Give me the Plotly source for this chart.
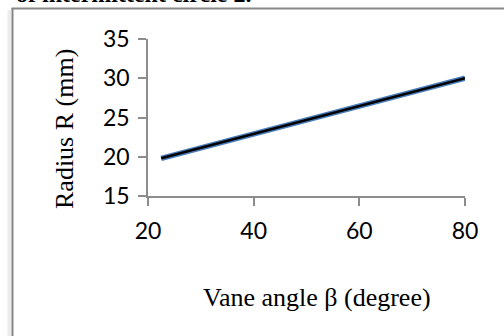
import plotly.graph_objects as go

# Data
vane_angle = [22.5, 40, 60, 80]
radius = [19.8, 22.9, 26.45, 30.0]

x_ticks = [20, 40, 60, 80]
y_ticks = [15, 20, 25, 30, 35]

W, H = 504, 336
L, R, T, B = 148, 39, 39, 140
pw, ph = W - L - R, H - T - B

def px(x):
    return (x - L) / pw

def py(y):
    return (H - B - y) / ph

fig = go.Figure()
fig.add_trace(go.Scatter(x=vane_angle, y=radius, mode="lines",
                         line=dict(color="#4a7ebb", width=5.5), hoverinfo="skip"))
fig.add_trace(go.Scatter(x=vane_angle, y=radius, mode="lines",
                         line=dict(color="#000000", width=2.5), hoverinfo="skip"))

axis_common = dict(showgrid=False, zeroline=False, showline=True,
                   linecolor="#8c8c8c", linewidth=1.5,
                   ticks="outside", ticklen=8, tickcolor="#8c8c8c", tickwidth=1.5,
                   tickfont=dict(family="Lato", size=23, color="#000000"))

fig.update_xaxes(range=[20, 80], tickvals=x_ticks, ticklabelstandoff=6, **axis_common)
fig.update_yaxes(range=[15, 35], tickvals=y_ticks, ticklabelstandoff=4, **axis_common)

fig.update_layout(
    width=W, height=H,
    margin=dict(l=L, r=R, t=T, b=B),
    paper_bgcolor="white", plot_bgcolor="white",
    showlegend=False,
    shapes=[
        # shadow
        dict(type="line", xref="paper", yref="paper",
             x0=px(9.5), x1=px(9.5), y0=py(10), y1=py(340),
             line=dict(color="#ececec", width=4)),
        # frame
        dict(type="line", xref="paper", yref="paper",
             x0=px(12.5), x1=px(12.5), y0=py(8), y1=py(340),
             line=dict(color="#878787", width=2)),
        dict(type="line", xref="paper", yref="paper",
             x0=px(11.5), x1=px(510), y0=py(8.5), y1=py(8.5),
             line=dict(color="#878787", width=2)),
    ],
    annotations=[
        dict(text="Radius R (mm)", xref="paper", yref="paper",
             x=px(64), y=py(129), textangle=-90, showarrow=False,
             font=dict(family="Liberation Serif", size=26, color="#000000"),
             xanchor="center", yanchor="middle"),
        dict(text="Vane angle \u03b2 (degree)", xref="paper", yref="paper",
             x=px(317), y=py(297), showarrow=False,
             font=dict(family="Liberation Serif", size=26, color="#000000"),
             xanchor="center", yanchor="middle"),
        dict(text="<b>\u00b7 of intermittent circle 2.</b>", xref="paper", yref="paper",
             x=px(0), y=py(9), showarrow=False,
             font=dict(family="Liberation Serif", size=24, color="#000000"),
             xanchor="left", yanchor="bottom"),
    ],
)

fig.write_html("out.html", config={"displayModeBar": False},
               post_script="document.body.style.margin='0px';document.body.style.overflow='hidden';")
